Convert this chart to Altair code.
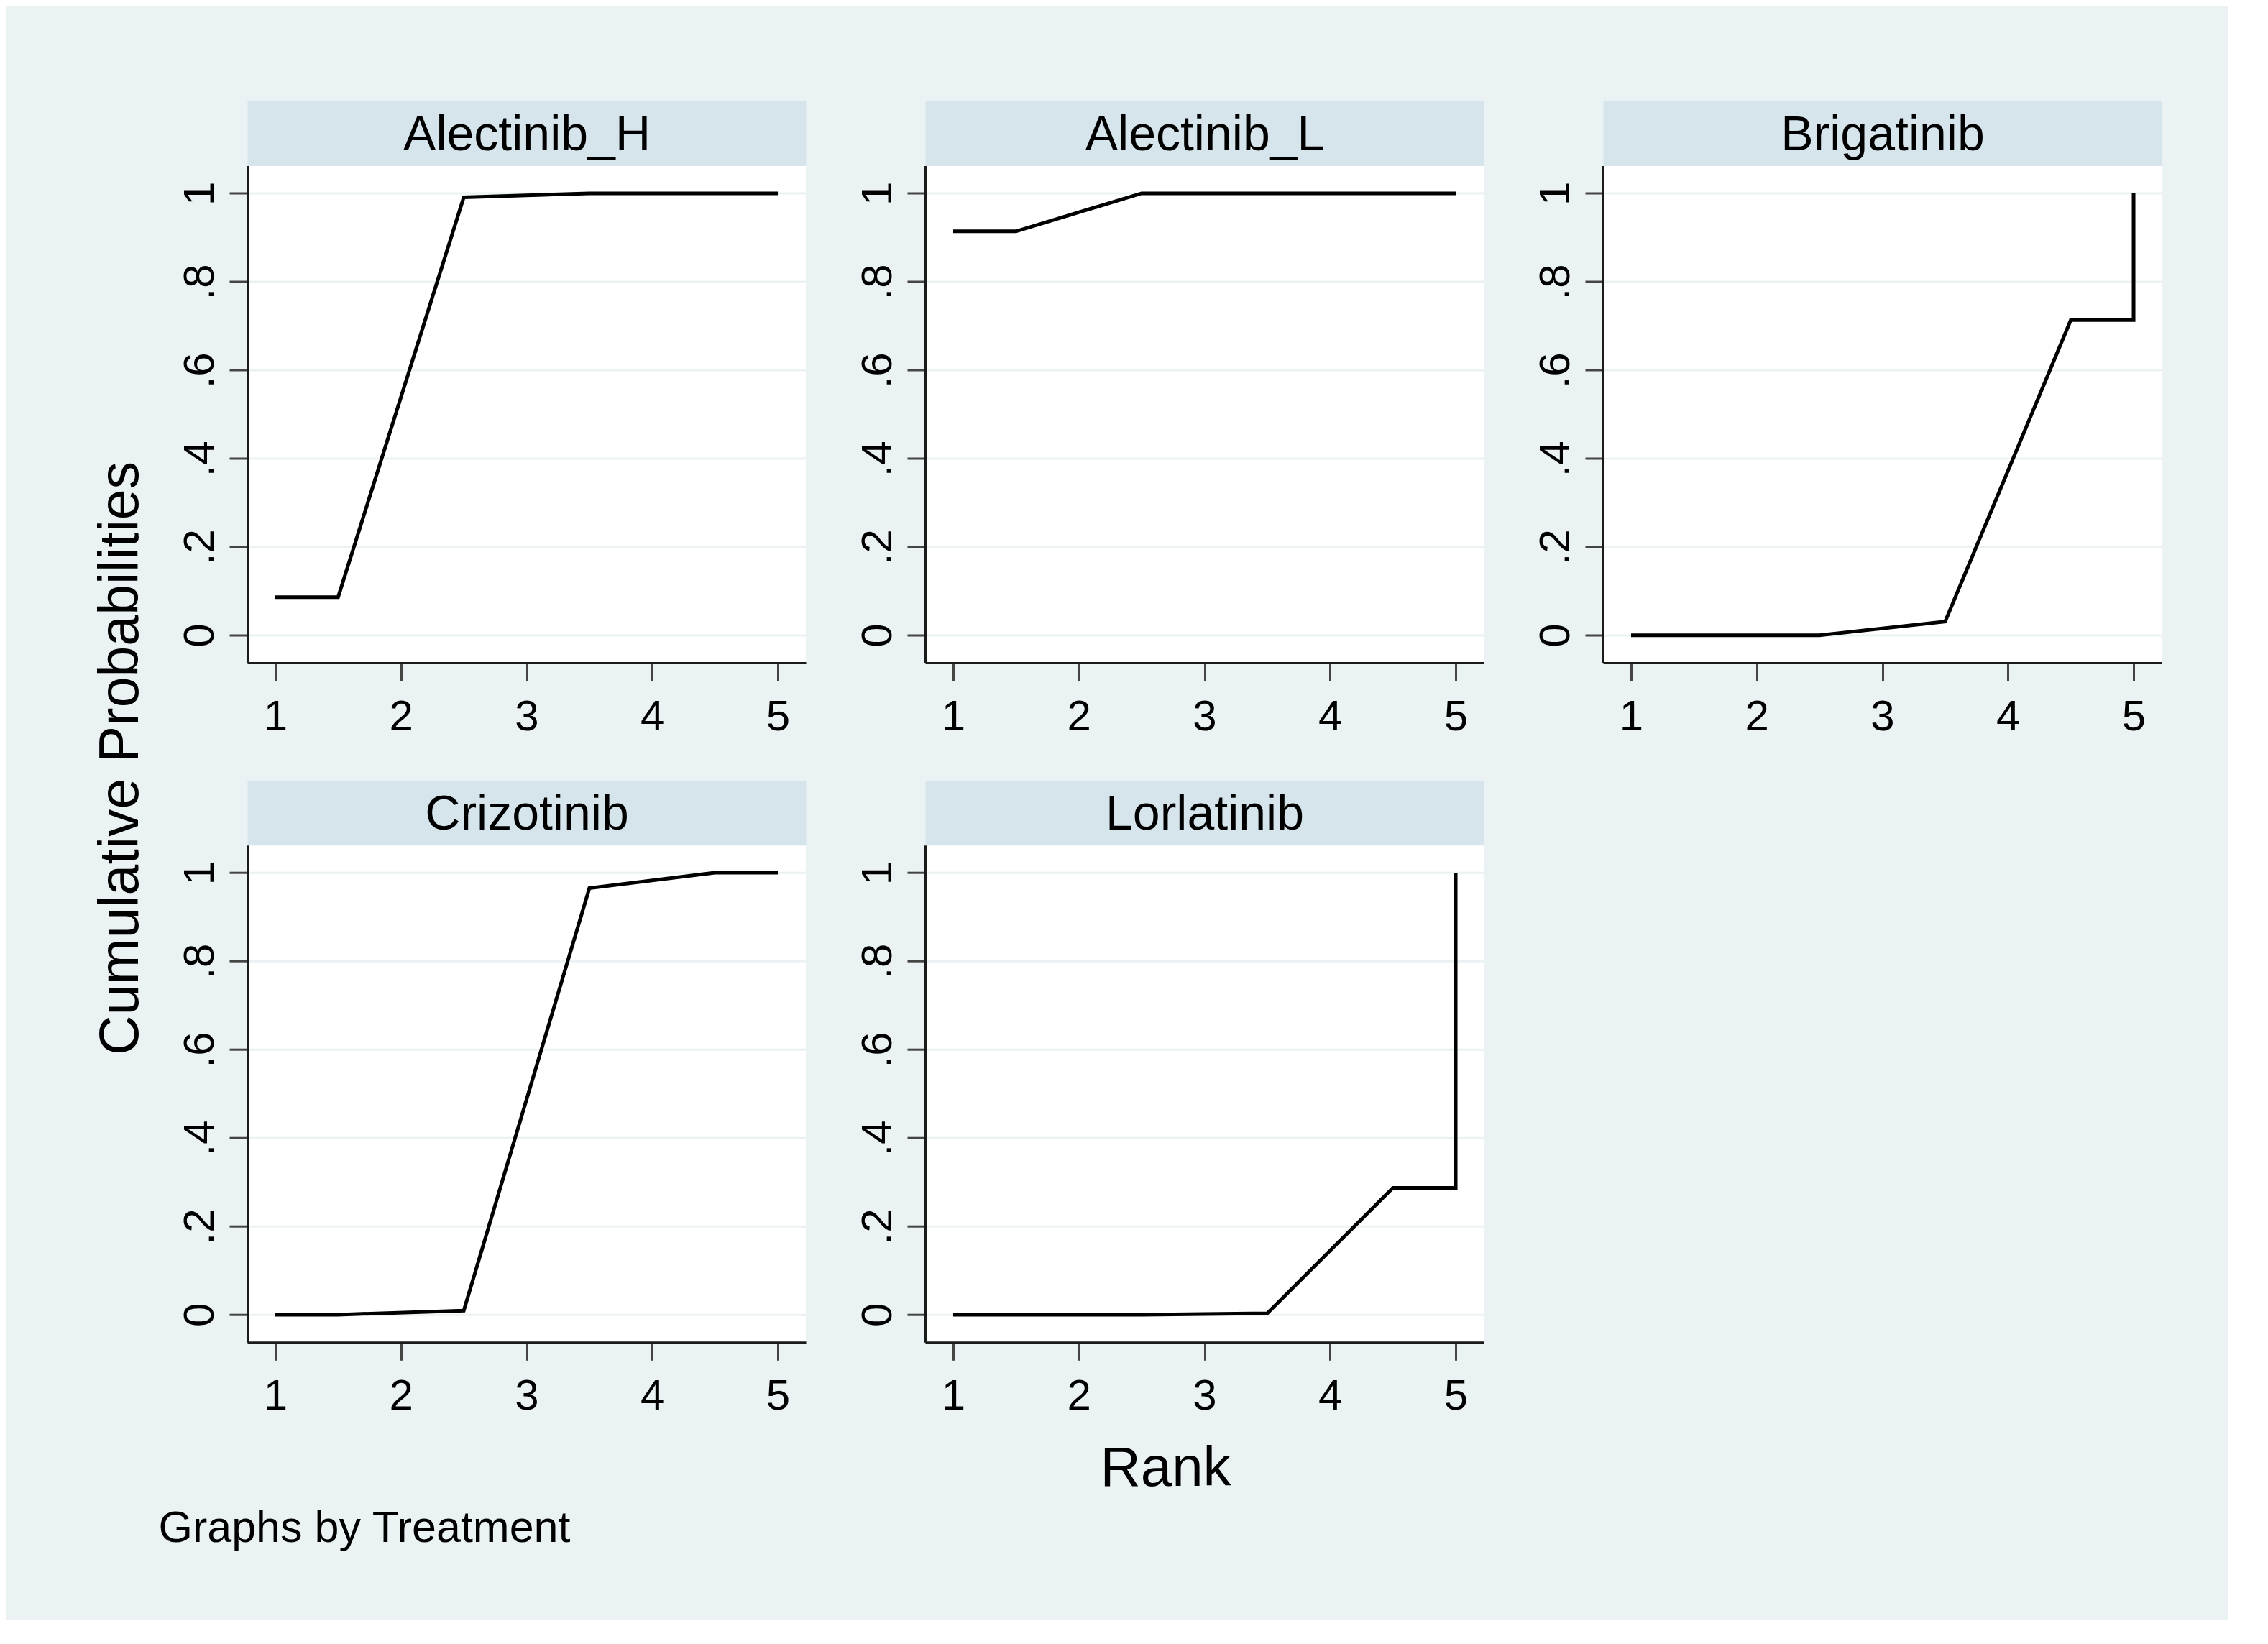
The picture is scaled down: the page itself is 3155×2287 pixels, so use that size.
import altair as alt
import pandas as pd

# ---- data ----
treatments = ["Alectinib_H", "Alectinib_L", "Brigatinib", "Crizotinib", "Lorlatinib"]
rank_points = [1, 1.5, 2.5, 3.5, 4.5, 5, 5]
alectinib_h = [0.086, 0.086, 0.991, 1.0, 1.0, 1.0, 1.0]
alectinib_l = [0.914, 0.914, 1.0, 1.0, 1.0, 1.0, 1.0]
brigatinib = [0.0, 0.0, 0.0, 0.031, 0.713, 0.713, 1.0]
crizotinib = [0.0, 0.0, 0.009, 0.965, 1.0, 1.0, 1.0]
lorlatinib = [0.0, 0.0, 0.0, 0.003, 0.287, 0.287, 1.0]
x_ticks = [1, 2, 3, 4, 5]
y_ticks = [0, 0.2, 0.4, 0.6, 0.8, 1]

series = [alectinib_h, alectinib_l, brigatinib, crizotinib, lorlatinib]
rows = []
for name, vals in zip(treatments, series):
    for step, (r, p) in enumerate(zip(rank_points, vals)):
        rows.append({"treatment": name, "rank": r, "prob": p, "step": step})
df = pd.DataFrame(rows)

FONT = "Liberation Sans"
BG = "#EAF2F3"
STRIP = "#D6E5EC"
W, H = 777, 691.6
XDOM = [0.777, 5.223]
YDOM = [-0.0625, 1.0625]


def panel(name, idx):
    base = alt.Chart(df).transform_filter(alt.datum.treatment == name)
    xa = dict(
        values=x_ticks, format="d", grid=False, domain=True, domainColor="#1a1a1a",
        domainWidth=3, ticks=True, tickColor="#444444", tickWidth=3, tickSize=25,
        labelFont=FONT, labelFontSize=60, labelColor="black", labelAngle=0,
        labelAlign="center", labelBaseline="alphabetic", labelPadding=68,
    )
    if name == "Crizotinib":
        xa.update(title="Graphs by Treatment", titleFont=FONT, titleFontSize=61,
                  titleFontWeight="normal", titleColor="black", titleAlign="left",
                  titleBaseline="alphabetic", titleX=-124, titleY=277)
    elif name == "Lorlatinib":
        xa.update(title="Rank", titleFont=FONT, titleFontSize=78,
                  titleFontWeight="normal", titleColor="black", titleAlign="center",
                  titleBaseline="alphabetic", titleX=334, titleY=199)
    else:
        xa.update(title=None)
    ya = dict(
        values=y_ticks, grid=True, gridColor=BG, gridWidth=3, domain=True,
        domainColor="#1a1a1a", domainWidth=3, ticks=True, tickColor="#444444",
        tickWidth=3, tickSize=25, labelFont=FONT, labelFontSize=60, labelColor="black",
        labelAngle=270, labelAlign="center", labelBaseline="alphabetic", labelPadding=23,
        labelExpr="replace(format(datum.value, '.1~f'), '0.', '.')",
    )
    if name == "Crizotinib":
        ya.update(title="Cumulative Probabilities", titleFont=FONT, titleFontSize=77,
                  titleFontWeight="normal", titleColor="black", titleAngle=270,
                  titleAlign="center", titleBaseline="alphabetic",
                  titleX=-152.5, titleY=-121.3)
    else:
        ya.update(title=None)

    line = base.mark_line(color="black", strokeWidth=5, strokeCap="butt",
                          strokeJoin="miter").encode(
        x=alt.X("rank:Q", scale=alt.Scale(domain=XDOM, nice=False, zero=False),
                axis=alt.Axis(**xa)),
        y=alt.Y("prob:Q", scale=alt.Scale(domain=YDOM, nice=False, zero=False),
                axis=alt.Axis(**ya)),
        order=alt.Order("step:Q"),
    )
    header = base.mark_point(opacity=0).encode(
        x=alt.X("rank:Q", scale=alt.Scale(domain=XDOM, nice=False, zero=False),
                axis=alt.Axis(orient="top", domain=True, domainColor=STRIP,
                              domainWidth=90, offset=45, ticks=False, labels=False,
                              grid=False, title=name, titleFont=FONT,
                              titleFontSize=68, titleFontWeight="normal",
                              titleColor="black", titleAlign="center",
                              titleBaseline="alphabetic", titleX=W / 2, titleY=22.7)),
    )
    return alt.layer(line, header).resolve_scale(x="independent").properties(
        width=W, height=H)


panels = [panel(n, i) for i, n in enumerate(treatments)]

chart = alt.concat(
    *panels, columns=3, spacing={"row": 253.2, "column": 166}, bounds="flush"
).properties(
    background=BG,
    padding={"left": 121, "top": 145.5, "right": 93, "bottom": 96},
).configure_view(strokeWidth=0, fill="white")

chart.save("out.html", embed_options={"renderer": "svg", "actions": False})
